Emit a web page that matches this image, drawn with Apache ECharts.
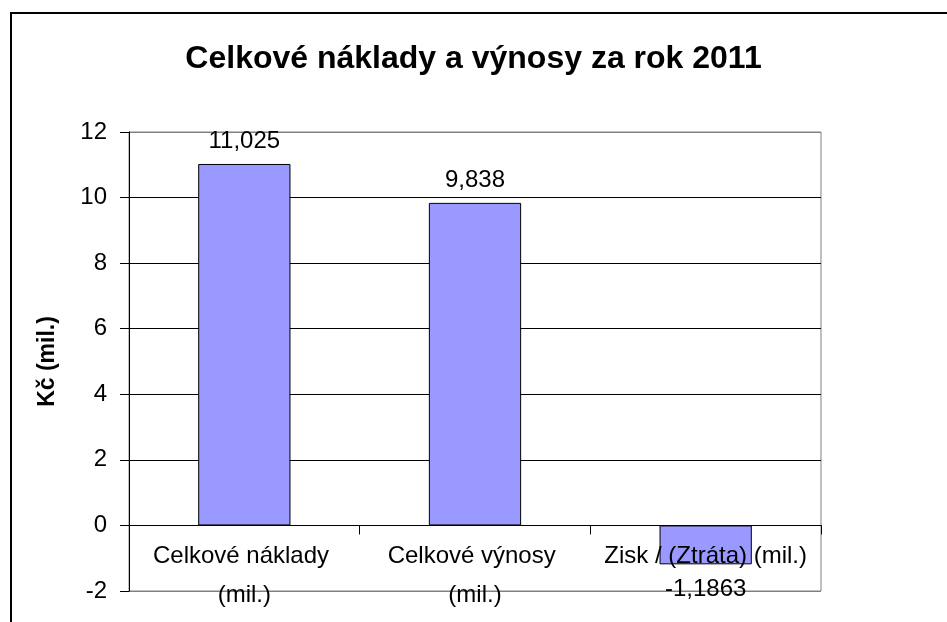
<!DOCTYPE html>
<html>
<head>
<meta charset="utf-8">
<script src="https://cdn.jsdelivr.net/npm/echarts@6/dist/echarts.min.js"></script>
<style>
  html, body { margin: 0; padding: 0; background: #fff; }
  #chart { width: 947px; height: 622px; }
</style>
</head>
<body>
<div id="chart"></div>
<script>
// Celkové náklady, výnosy a hospodářský výsledek za rok 2011 (mil. Kč)
const categories = ['Celkové náklady (mil.)', 'Celkové výnosy (mil.)', 'Zisk / (Ztráta) (mil.)'];
const values = [11.025, 9.838, -1.1863];
const valueLabels = ['11,025', '9,838', '-1,1863'];
const yTicks = [-2, 0, 2, 4, 6, 8, 10, 12];

const FONT = '"Liberation Sans", Arial, sans-serif';
const W = 947, H = 622;
const GRID = { left: 129, right: 126, top: 132, bottom: 31 };

// The category axis sits on the zero line: shift it up from the plot bottom
const yMin = yTicks[0], yMax = yTicks[yTicks.length - 1];
const plotH = H - GRID.top - GRID.bottom;
const zeroOffset = -((0 - yMin) / (yMax - yMin)) * plotH;

const chart = echarts.init(document.getElementById('chart'), null, { renderer: 'canvas' });

const barData = values.map((v, i) => ({
  value: v,
  label: {
    position: v < 0 ? 'bottom' : 'top',
    distance: v < 0 ? 13 : 11,
    formatter: valueLabels[i]
  }
}));

chart.setOption({
  animation: false,
  backgroundColor: '#ffffff',
  title: {
    text: 'Celkové náklady a výnosy za rok 2011',
    left: 'center',
    top: 38,
    textStyle: { fontFamily: FONT, fontSize: 32, fontWeight: 'bold', color: '#000' }
  },
  graphic: [{
    type: 'rect',
    shape: { x: 11, y: 13, width: 1000, height: 1000 },
    style: { fill: 'none', stroke: '#000', lineWidth: 2 },
    silent: true,
    z: 100
  }],
  grid: {
    left: GRID.left, right: GRID.right, top: GRID.top, bottom: GRID.bottom,
    containLabel: false,
    outerBoundsMode: 'none',
    show: true, borderColor: '#808080', borderWidth: 1, backgroundColor: 'transparent'
  },
  xAxis: {
    type: 'category',
    data: categories,
    position: 'bottom',
    offset: zeroOffset,
    z: 10,
    axisLine: { onZero: false, lineStyle: { color: '#000', width: 1 } },
    axisTick: { show: true, length: 9, lineStyle: { color: '#000' } },
    axisLabel: {
      fontFamily: FONT, fontSize: 24, color: '#000', margin: 11, lineHeight: 39,
      width: 215, overflow: 'break', interval: 0
    },
    splitLine: { show: false }
  },
  yAxis: {
    type: 'value',
    min: yMin, max: yMax, interval: 2,
    name: 'Kč (mil.)',
    nameLocation: 'middle',
    nameGap: 70,
    nameTextStyle: { fontFamily: FONT, fontSize: 23, fontWeight: 'bold', color: '#000' },
    axisLine: { show: true, onZero: false, lineStyle: { color: '#000', width: 1 } },
    axisTick: { show: true, length: 9, lineStyle: { color: '#000' } },
    axisLabel: { fontFamily: FONT, fontSize: 24, color: '#000', margin: 22 },
    splitLine: {
      show: true,
      lineStyle: { color: ['#808080', '#000', '#000', '#000', '#000', '#000', '#000', '#808080'], width: 1 }
    }
  },
  series: [{
    type: 'bar',
    data: barData,
    barWidth: '40%',
    z: 2,
    itemStyle: { color: '#9999FF', borderColor: '#000', borderWidth: 1 },
    label: {
      show: true,
      fontFamily: FONT, fontSize: 24, color: '#000'
    }
  }]
});
</script>
</body>
</html>
